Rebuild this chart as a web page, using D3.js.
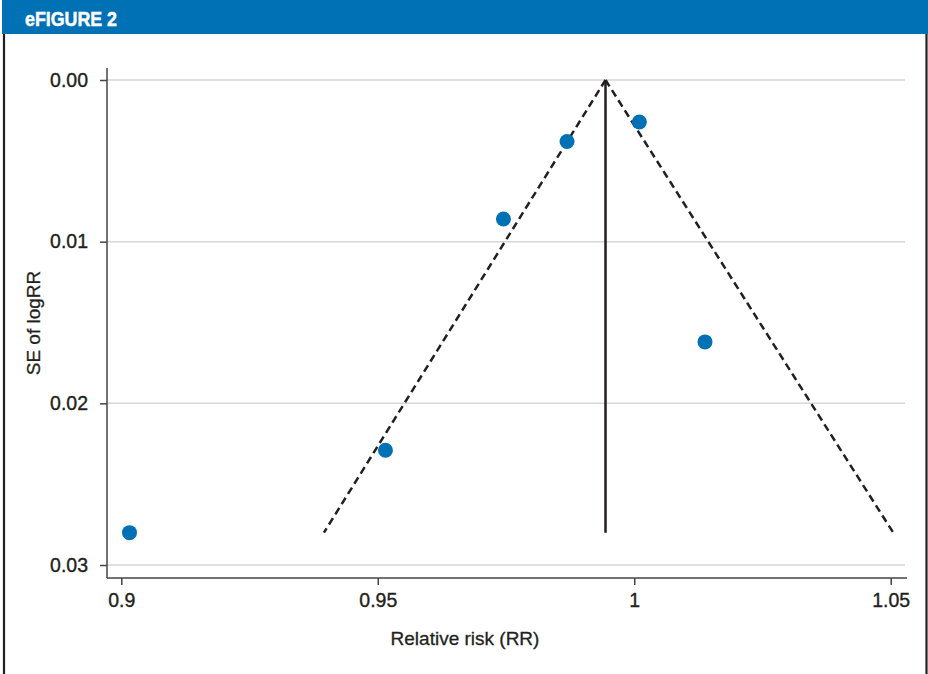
<!DOCTYPE html>
<html>
<head>
<meta charset="utf-8">
<script src="https://cdn.jsdelivr.net/npm/d3@7"></script>
<style>
  html, body { margin: 0; padding: 0; background: #fff; }
  svg { display: block; font-family: "Liberation Sans", Arial, Helvetica, sans-serif; }
</style>
</head>
<body>
<svg id="chart" width="928" height="674"></svg>
<script>
// Study estimates: relative risk and standard error of log(RR)
const studyRR = [0.9016, 0.9515, 0.9745, 0.9869, 1.0010, 1.0138];
const studySE = [0.0280, 0.0229, 0.0086, 0.0038, 0.0026, 0.0162];

// Pooled estimate and the funnel's pseudo-confidence limits at the largest SE
const pooledRR = 0.9944;
const funnelSE = [0, 0.028];
const funnelLower = [0.9944, 0.9395];
const funnelUpper = [0.9944, 1.0505];

// Axis ticks
const xTicks = [0.9, 0.95, 1, 1.05];
const xTickLabels = ["0.9", "0.95", "1", "1.05"];
const yTicks = [0, 0.01, 0.02, 0.03];
const yTickLabels = ["0.00", "0.01", "0.02", "0.03"];

const title = "eFIGURE 2";
const xTitle = "Relative risk (RR)";
const yTitle = "SE of logRR";

const ink = "#231f20";
const blue = "#0071b4";

const svg = d3.select("#chart");

// Header band and frame
svg.append("rect").attr("x", 2).attr("y", 0).attr("width", 926).attr("height", 34).attr("fill", blue);
svg.append("text").attr("x", 25).attr("y", 25.5)
  .attr("fill", "#fff").attr("stroke", "#fff").attr("stroke-width", 0.5)
  .attr("font-weight", "bold").attr("font-size", 20.5)
  .attr("textLength", 92).attr("lengthAdjust", "spacingAndGlyphs")
  .text(title);
svg.append("line").attr("x1", 4).attr("x2", 4).attr("y1", 34).attr("y2", 674)
  .attr("stroke", ink).attr("stroke-width", 2.2);
svg.append("line").attr("x1", 926.5).attr("x2", 926.5).attr("y1", 34).attr("y2", 674)
  .attr("stroke", ink).attr("stroke-width", 2.2);

// Plot area bounds
const plotLeft = 107, plotRight = 907, plotTop = 68, plotBottom = 578;

const x = d3.scaleLinear().domain([0.9, 1.05]).range([121.3, 890.7]);
const y = d3.scaleLinear().domain([0, 0.03]).range([80, 565]);

// Horizontal gridlines
svg.append("g").selectAll("line").data(yTicks).join("line")
  .attr("x1", plotLeft).attr("x2", 905)
  .attr("y1", d => y(d)).attr("y2", d => y(d))
  .attr("stroke", "#d6d6d6").attr("stroke-width", 1.5);

// Axes
const yAxis = svg.append("g").attr("transform", `translate(${plotLeft},0)`)
  .call(d3.axisLeft(y).tickValues(yTicks).tickFormat((d, i) => yTickLabels[i]).tickSize(7).tickPadding(12));
const xAxis = svg.append("g").attr("transform", `translate(0,${plotBottom})`)
  .call(d3.axisBottom(x).tickValues(xTicks).tickFormat((d, i) => xTickLabels[i]).tickSize(7).tickPadding(8));
[yAxis, xAxis].forEach(g => {
  g.select(".domain").remove();
  g.selectAll(".tick line").attr("stroke", "#444").attr("stroke-width", 1.5);
  g.selectAll(".tick text").attr("fill", ink).attr("stroke", ink).attr("stroke-width", 0.35)
    .attr("font-size", 19.5)
    .attr("font-family", "\"Liberation Sans\", Arial, sans-serif");
});
svg.append("line").attr("x1", plotLeft).attr("x2", plotLeft).attr("y1", plotTop).attr("y2", plotBottom)
  .attr("stroke", "#444").attr("stroke-width", 1.5);
svg.append("line").attr("x1", plotLeft).attr("x2", plotRight).attr("y1", plotBottom).attr("y2", plotBottom)
  .attr("stroke", "#444").attr("stroke-width", 1.5);

// Axis titles
svg.append("text").attr("x", 465).attr("y", 645).attr("text-anchor", "middle")
  .attr("fill", ink).attr("stroke", ink).attr("stroke-width", 0.3)
  .attr("font-size", 19).text(xTitle);
svg.append("text").attr("transform", "translate(40,323) rotate(-90)").attr("text-anchor", "middle")
  .attr("fill", ink).attr("stroke", ink).attr("stroke-width", 0.3)
  .attr("font-size", 19).text(yTitle);

// Funnel: pooled estimate and dashed limits
const funnelLine = d3.line().x(d => x(d[0])).y(d => y(d[1]));
svg.append("path").datum(funnelSE.map((s, i) => [pooledRR, s]))
  .attr("d", funnelLine).attr("stroke", ink).attr("stroke-width", 2.5).attr("fill", "none");
[funnelLower, funnelUpper].forEach(limit => {
  svg.append("path").datum(funnelSE.map((s, i) => [limit[i], s]))
    .attr("d", funnelLine).attr("stroke", ink).attr("stroke-width", 2.5)
    .attr("stroke-dasharray", "7.5,4.5").attr("fill", "none");
});

// Study points
svg.append("g").selectAll("circle").data(studyRR).join("circle")
  .attr("cx", d => x(d)).attr("cy", (d, i) => y(studySE[i]))
  .attr("r", 7.5).attr("fill", blue);
</script>
</body>
</html>
